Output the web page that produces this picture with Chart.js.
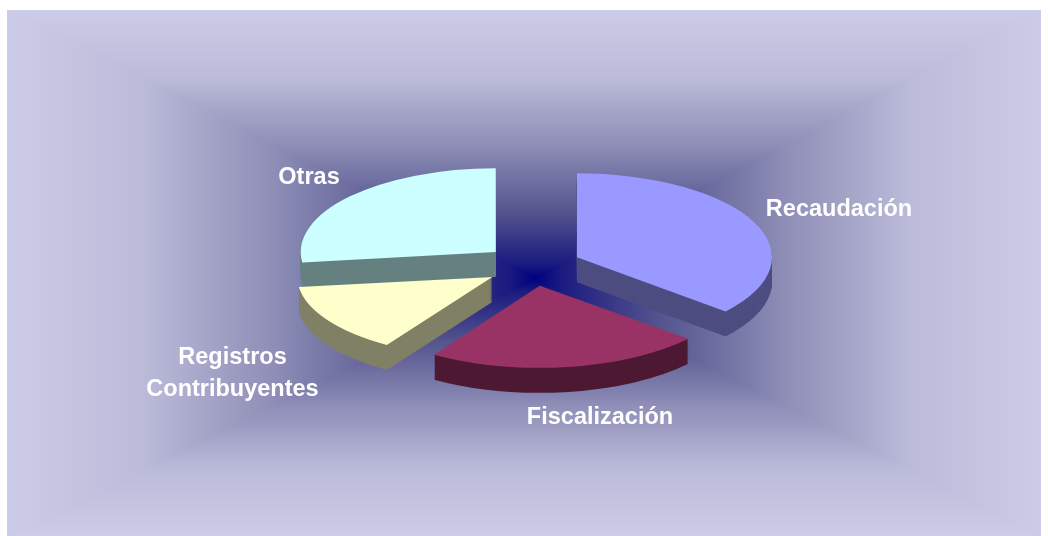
<!DOCTYPE html>
<html><head><meta charset="utf-8">
<style>html,body{margin:0;padding:0;background:#fff}#w{width:1049px;height:536px;position:relative}canvas{display:block}</style>
<script src="https://cdn.jsdelivr.net/npm/chart.js@4"></script>
</head><body><div id="w"><canvas id="c" width="1049" height="536"></canvas></div>
<script>
const categories = ['Recaudación', 'Fiscalización', 'Registros Contribuyentes', 'Otras'];
const values = [36.2, 22.9, 13.9, 27];
const topColors = ['#9999FF', '#993366', '#FFFFCC', '#CCFFFF'];
const sideColors = ['#4D4D80', '#4D1933', '#808066', '#668080'];
const labelLines = [['Recaudación'], ['Fiscalización'], ['Registros', 'Contribuyentes'], ['Otras']];
const labelCenters = [[839, 210], [600, 418], [232.5, 358], [309, 178]];

const SQUASH = 0.43, DEPTH = 25;
const sliceSquash = [0.43, 0.42, 0.415, 0.43];
const sliceExplode = [49, 49, 47.5, 49];
const PANEL = {l: 7, t: 10, r: 1041, b: 536, cx: 535, cy: 278};
const STOPS = [[0,'#000080'],[0.05,'#1a1a80'],[0.25,'#55558f'],[0.5,'#8f8fb8'],[0.75,'#bcbcda'],[1,'#ccccE8']];

const panelPlugin = {
  id: 'panel',
  beforeDraw(chart) {
    const {ctx} = chart, p = PANEL;
    const grad = (ex, ey) => {
      const g = ctx.createLinearGradient(p.cx, p.cy, ex, ey);
      STOPS.forEach(s => g.addColorStop(s[0], s[1]));
      return g;
    };
    ctx.save();
    // top and bottom halves as full rectangles, then left and right faces clipped on top (no seams)
    ctx.fillStyle = grad(p.cx, p.t);
    ctx.fillRect(p.l, p.t, p.r - p.l, p.cy - p.t);
    ctx.fillStyle = grad(p.cx, p.b);
    ctx.fillRect(p.l, p.cy, p.r - p.l, p.b - p.cy);
    const sides = [[p.l, p.t, p.l, p.b, p.l], [p.r, p.t, p.r, p.b, p.r]];
    for (const [ax, ay, bx, by, ex] of sides) {
      ctx.fillStyle = grad(ex, p.cy);
      ctx.beginPath();
      ctx.moveTo(p.cx, p.cy); ctx.lineTo(ax, ay); ctx.lineTo(bx, by); ctx.closePath();
      ctx.fill();
    }
    ctx.restore();
  }
};

const solidPiePlugin = {
  id: 'solidPie',
  beforeDatasetDraw(chart, args) {
    const {ctx} = chart;
    const arcs = chart.getDatasetMeta(args.index).data;
    const order = [3, 0, 2, 1];
    for (const i of order) {
      const arc = arcs[i];
      const base = arc.options;
      const mid = (arc.startAngle + arc.endAngle) / 2;
      const dx = Math.cos(mid) * sliceExplode[i];
      const dy = Math.sin(mid) * sliceExplode[i] * (i === 1 ? 0.41 : SQUASH);
      const paint = (shift, color) => {
        ctx.save();
        ctx.translate(arc.x + dx, arc.y + dy + shift);
        ctx.scale(1, sliceSquash[i]);
        ctx.translate(-arc.x, -arc.y);
        arc.options = Object.create(base, {backgroundColor: {value: color}, borderWidth: {value: 0}});
        arc.draw(ctx);
        arc.options = base;
        ctx.restore();
      };
      for (let d = DEPTH; d > 0; d--) paint(d, sideColors[i]);
      paint(0, topColors[i]);
    }
    return false;
  },
  afterDraw(chart) {
    const {ctx} = chart;
    ctx.save();
    ctx.fillStyle = '#fff';
    ctx.font = 'bold 23.5px "Liberation Sans", Arial, sans-serif';
    ctx.textAlign = 'center';
    ctx.textBaseline = 'middle';
    labelLines.forEach((lines, i) => {
      lines.forEach((t, k) => ctx.fillText(t, labelCenters[i][0], labelCenters[i][1] + k * 32));
    });
    ctx.restore();
  }
};

new Chart(document.getElementById('c'), {
  type: 'pie',
  data: {labels: categories, datasets: [{data: values, backgroundColor: topColors, borderWidth: 0}]},
  options: {
    responsive: false, animation: false,
    events: [],
    layout: {padding: {left: 16, right: 0, top: 71, bottom: 75}},
    plugins: {legend: {display: false}, tooltip: {enabled: false}}
  },
  plugins: [panelPlugin, solidPiePlugin]
});
</script></body></html>
